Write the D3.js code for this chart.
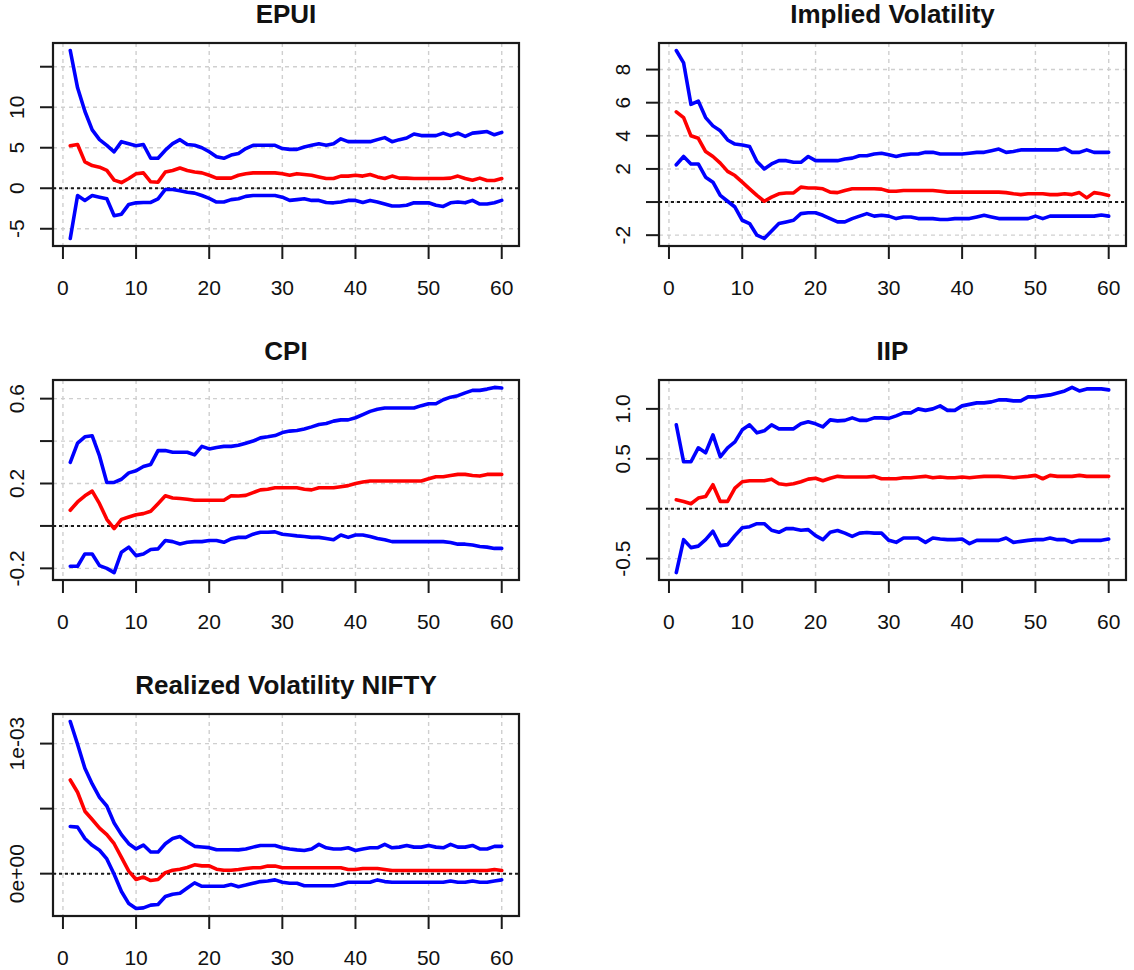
<!DOCTYPE html>
<html>
<head>
<meta charset="utf-8">
<script src="https://cdn.jsdelivr.net/npm/d3@7"></script>
<style>
  body { margin: 0; background: #fff; }
  text { font-family: "Liberation Sans", Arial, sans-serif; fill: #111; }
</style>
</head>
<body>
<svg id="chart" width="1134" height="970"></svg>
<script>
/* global d3 */
// horizons 1..60 (index axis, like R's plot of a vector)
const horizon = d3.range(1, 61);

const epuiUpper = [17.0, 12.4, 9.5, 7.2, 6.0, 5.3, 4.5, 5.75, 5.5, 5.25, 5.4, 3.7, 3.7, 4.7, 5.5, 6.0, 5.4, 5.3, 5.0, 4.5,
  3.9, 3.7, 4.1, 4.3, 4.9, 5.3, 5.3, 5.3, 5.3, 4.9, 4.8, 4.8, 5.1, 5.3, 5.5, 5.3, 5.5, 6.1, 5.75, 5.75,
  5.75, 5.75, 6.0, 6.25, 5.75, 6.0, 6.2, 6.7, 6.5, 6.5, 6.5, 6.8, 6.5, 6.8, 6.4, 6.8, 6.9, 7.0, 6.6, 6.9];
const epuiMid = [5.25, 5.4, 3.25, 2.8, 2.6, 2.2, 1.0, 0.7, 1.2, 1.8, 1.9, 0.8, 0.75, 2.0, 2.2, 2.5, 2.2, 2.0, 1.9, 1.6,
  1.25, 1.25, 1.25, 1.6, 1.8, 1.9, 1.9, 1.9, 1.9, 1.8, 1.6, 1.8, 1.7, 1.6, 1.4, 1.2, 1.2, 1.5, 1.5, 1.6,
  1.5, 1.7, 1.4, 1.2, 1.5, 1.25, 1.25, 1.2, 1.2, 1.2, 1.2, 1.2, 1.25, 1.5, 1.2, 1.0, 1.25, 0.95, 0.95, 1.2];
const epuiLower = [-6.2, -0.9, -1.5, -0.9, -1.1, -1.3, -3.4, -3.2, -2.0, -1.8, -1.75, -1.75, -1.3, -0.15, -0.15, -0.3, -0.5, -0.6, -0.9, -1.25,
  -1.7, -1.7, -1.4, -1.3, -1.0, -0.9, -0.9, -0.9, -0.9, -1.1, -1.5, -1.4, -1.3, -1.5, -1.5, -1.75, -1.8, -1.7, -1.5, -1.5,
  -1.75, -1.5, -1.7, -1.95, -2.2, -2.2, -2.1, -1.8, -1.8, -1.8, -2.1, -2.25, -1.8, -1.7, -1.8, -1.5, -1.95, -1.95, -1.8, -1.5];

const ivUpper = [9.15, 8.4, 5.9, 6.1, 5.1, 4.6, 4.3, 3.75, 3.5, 3.45, 3.35, 2.45, 2.0, 2.3, 2.5, 2.5, 2.4, 2.4, 2.75, 2.5,
  2.5, 2.5, 2.5, 2.6, 2.65, 2.8, 2.8, 2.9, 2.95, 2.85, 2.75, 2.85, 2.9, 2.9, 3.0, 3.0, 2.9, 2.9, 2.9, 2.9,
  2.95, 3.0, 3.0, 3.1, 3.2, 3.0, 3.05, 3.15, 3.15, 3.15, 3.15, 3.15, 3.15, 3.25, 3.0, 3.0, 3.15, 3.0, 3.0, 3.0];
const ivMid = [5.45, 5.1, 4.0, 3.85, 3.05, 2.75, 2.35, 1.85, 1.6, 1.2, 0.8, 0.4, 0.05, 0.3, 0.5, 0.55, 0.55, 0.9, 0.85, 0.85,
  0.8, 0.6, 0.57, 0.7, 0.8, 0.8, 0.8, 0.8, 0.78, 0.65, 0.65, 0.7, 0.7, 0.7, 0.7, 0.7, 0.65, 0.6, 0.6, 0.6,
  0.6, 0.6, 0.6, 0.6, 0.6, 0.57, 0.5, 0.45, 0.5, 0.5, 0.5, 0.45, 0.45, 0.5, 0.45, 0.57, 0.25, 0.57, 0.5, 0.4];
const ivLower = [2.25, 2.75, 2.3, 2.3, 1.5, 1.2, 0.4, 0.05, -0.3, -1.1, -1.3, -2.0, -2.2, -1.75, -1.3, -1.2, -1.1, -0.7, -0.65, -0.65,
  -0.8, -1.0, -1.2, -1.2, -1.0, -0.85, -0.7, -0.85, -0.8, -0.85, -1.0, -0.9, -0.9, -1.0, -1.0, -1.0, -1.05, -1.05, -1.0, -1.0,
  -1.0, -0.9, -0.8, -0.9, -1.0, -1.0, -1.0, -1.0, -1.0, -0.85, -1.0, -0.85, -0.85, -0.85, -0.85, -0.85, -0.85, -0.85, -0.78, -0.85];

const cpiUpper = [0.30, 0.39, 0.42, 0.425, 0.33, 0.205, 0.205, 0.22, 0.25, 0.26, 0.28, 0.29, 0.355, 0.355, 0.347, 0.347, 0.347, 0.335, 0.375, 0.363,
  0.37, 0.375, 0.375, 0.38, 0.39, 0.40, 0.415, 0.42, 0.426, 0.44, 0.447, 0.45, 0.457, 0.467, 0.478, 0.483, 0.494, 0.50, 0.50, 0.51,
  0.525, 0.54, 0.55, 0.556, 0.556, 0.556, 0.556, 0.556, 0.567, 0.576, 0.576, 0.595, 0.607, 0.614, 0.627, 0.639, 0.639, 0.645, 0.653, 0.65];
const cpiMid = [0.074, 0.113, 0.142, 0.164, 0.105, 0.031, -0.013, 0.031, 0.042, 0.053, 0.058, 0.069, 0.105, 0.142, 0.132, 0.129, 0.126, 0.121, 0.121, 0.121,
  0.121, 0.121, 0.142, 0.141, 0.144, 0.157, 0.17, 0.173, 0.18, 0.18, 0.18, 0.18, 0.173, 0.17, 0.18, 0.18, 0.18, 0.185, 0.19, 0.20,
  0.207, 0.212, 0.212, 0.212, 0.212, 0.212, 0.212, 0.212, 0.212, 0.222, 0.232, 0.232, 0.238, 0.243, 0.243, 0.238, 0.235, 0.243, 0.243, 0.243];
const cpiLower = [-0.19, -0.19, -0.132, -0.132, -0.187, -0.2, -0.22, -0.124, -0.10, -0.14, -0.132, -0.111, -0.108, -0.069, -0.074, -0.085, -0.077, -0.074, -0.074, -0.069,
  -0.069, -0.077, -0.061, -0.054, -0.054, -0.039, -0.03, -0.03, -0.028, -0.039, -0.043, -0.047, -0.05, -0.054, -0.054, -0.059, -0.065, -0.043, -0.054, -0.043,
  -0.043, -0.05, -0.059, -0.065, -0.074, -0.074, -0.074, -0.074, -0.074, -0.074, -0.074, -0.074, -0.078, -0.086, -0.086, -0.09, -0.097, -0.10, -0.106, -0.106];

const iipUpper = [0.84, 0.47, 0.47, 0.61, 0.56, 0.74, 0.52, 0.61, 0.67, 0.79, 0.84, 0.76, 0.78, 0.84, 0.80, 0.80, 0.80, 0.85, 0.87, 0.85,
  0.82, 0.89, 0.88, 0.885, 0.91, 0.885, 0.885, 0.91, 0.91, 0.905, 0.93, 0.96, 0.96, 1.0, 0.985, 1.0, 1.03, 0.985, 0.985, 1.03,
  1.045, 1.06, 1.06, 1.07, 1.09, 1.09, 1.08, 1.08, 1.12, 1.12, 1.13, 1.14, 1.16, 1.18, 1.215, 1.18, 1.2, 1.2, 1.2, 1.19];
const iipMid = [0.09, 0.073, 0.05, 0.106, 0.123, 0.24, 0.073, 0.073, 0.206, 0.27, 0.28, 0.28, 0.28, 0.296, 0.25, 0.24, 0.25, 0.27, 0.296, 0.305,
  0.28, 0.305, 0.324, 0.317, 0.317, 0.317, 0.317, 0.324, 0.30, 0.30, 0.30, 0.31, 0.31, 0.317, 0.324, 0.31, 0.317, 0.31, 0.31, 0.317,
  0.31, 0.317, 0.324, 0.324, 0.324, 0.317, 0.31, 0.317, 0.324, 0.334, 0.30, 0.334, 0.324, 0.324, 0.324, 0.334, 0.324, 0.324, 0.324, 0.324];
const iipLower = [-0.64, -0.31, -0.39, -0.375, -0.31, -0.226, -0.37, -0.36, -0.27, -0.19, -0.18, -0.15, -0.15, -0.216, -0.236, -0.2, -0.2, -0.216, -0.21, -0.27,
  -0.31, -0.236, -0.218, -0.245, -0.277, -0.245, -0.238, -0.245, -0.245, -0.317, -0.337, -0.294, -0.294, -0.294, -0.337, -0.294, -0.304, -0.31, -0.31, -0.304,
  -0.35, -0.317, -0.317, -0.317, -0.317, -0.294, -0.337, -0.327, -0.317, -0.31, -0.31, -0.294, -0.31, -0.31, -0.337, -0.317, -0.317, -0.317, -0.317, -0.304];

// realized volatility, in units of 1e-4
const rvUpper = [11.7, 9.95, 8.1, 6.9, 5.87, 5.2, 3.9, 3.0, 2.3, 1.9, 2.2, 1.66, 1.66, 2.3, 2.7, 2.85, 2.45, 2.1, 2.05, 2.0,
  1.84, 1.84, 1.84, 1.83, 1.9, 2.04, 2.17, 2.17, 2.17, 1.99, 1.9, 1.83, 1.78, 1.9, 2.25, 1.99, 1.9, 1.9, 1.99, 1.78,
  1.9, 1.99, 1.99, 2.25, 1.99, 2.04, 2.17, 2.04, 2.04, 2.17, 2.04, 1.99, 2.25, 2.04, 2.04, 2.17, 1.9, 1.9, 2.1, 2.1];
const rvMid = [7.2, 6.26, 4.8, 4.16, 3.5, 3.0, 2.3, 1.26, 0.2, -0.45, -0.26, -0.53, -0.45, 0.08, 0.26, 0.34, 0.47, 0.68, 0.6, 0.6,
  0.34, 0.26, 0.26, 0.32, 0.4, 0.45, 0.45, 0.58, 0.58, 0.45, 0.45, 0.45, 0.45, 0.45, 0.45, 0.45, 0.45, 0.45, 0.32, 0.32,
  0.4, 0.4, 0.4, 0.32, 0.24, 0.24, 0.24, 0.24, 0.24, 0.24, 0.24, 0.24, 0.24, 0.24, 0.24, 0.24, 0.24, 0.24, 0.32, 0.24];
const rvLower = [3.63, 3.58, 2.7, 2.18, 1.8, 1.13, -0.05, -1.37, -2.3, -2.68, -2.63, -2.42, -2.37, -1.76, -1.58, -1.5, -1.1, -0.71, -0.97, -0.97,
  -0.97, -0.97, -0.84, -1.0, -0.88, -0.74, -0.61, -0.56, -0.48, -0.66, -0.74, -0.74, -0.93, -0.93, -0.93, -0.93, -0.93, -0.82, -0.66, -0.66,
  -0.66, -0.66, -0.48, -0.61, -0.66, -0.66, -0.66, -0.66, -0.66, -0.66, -0.66, -0.66, -0.56, -0.66, -0.66, -0.56, -0.66, -0.66, -0.56, -0.48];

const titles = ["EPUI", "Implied Volatility", "CPI", "IIP", "Realized Volatility NIFTY"];
const xTicks = [0, 10, 20, 30, 40, 50, 60];
const epuiTicks = [-5, 0, 5, 10, 15];
const epuiLabels = ["-5", "0", "5", "10", ""];
const ivTicks = [-2, 0, 2, 4, 6, 8];
const ivLabels = ["-2", "", "2", "4", "6", "8"];
const cpiTicks = [-0.2, 0, 0.2, 0.4, 0.6];
const cpiLabels = ["-0.2", "", "0.2", "", "0.6"];
const iipTicks = [-0.5, 0, 0.5, 1.0];
const iipLabels = ["-0.5", "", "0.5", "1.0"];
const rvTicks = [0, 0.0005, 0.001];
const rvLabels = ["0e+00", "", "1e-03"];

const svg = d3.select("#chart");

const panels = [
  { title: titles[0], up: epuiUpper, mid: epuiMid, low: epuiLower, ticks: epuiTicks, labels: epuiLabels, x: 53, y: 43, w: 466, h: 203 },
  { title: titles[1], up: ivUpper, mid: ivMid, low: ivLower, ticks: ivTicks, labels: ivLabels, x: 659, y: 43, w: 467, h: 203 },
  { title: titles[2], up: cpiUpper, mid: cpiMid, low: cpiLower, ticks: cpiTicks, labels: cpiLabels, x: 53, y: 380, w: 466, h: 200 },
  { title: titles[3], up: iipUpper, mid: iipMid, low: iipLower, ticks: iipTicks, labels: iipLabels, x: 659, y: 380, w: 467, h: 200 },
  { title: titles[4], up: rvUpper.map(v => v * 1e-4), mid: rvMid.map(v => v * 1e-4), low: rvLower.map(v => v * 1e-4),
    ticks: rvTicks, labels: rvLabels, x: 53, y: 714, w: 466, h: 202 }
];

function drawPanel(p) {
  // R style axis ranges: data range padded by 4% each side
  const xPad = (60 - 1) * 0.04;
  const x = d3.scaleLinear().domain([1 - xPad, 60 + xPad]).range([p.x, p.x + p.w]);
  const all = p.up.concat(p.mid, p.low);
  const [lo, hi] = d3.extent(all);
  const yPad = (hi - lo) * 0.04;
  const y = d3.scaleLinear().domain([lo - yPad, hi + yPad]).range([p.y + p.h, p.y]);

  const g = svg.append("g");

  // grid
  g.selectAll(".vgrid").data(xTicks).enter().append("line")
    .attr("x1", d => x(d)).attr("x2", d => x(d))
    .attr("y1", p.y).attr("y2", p.y + p.h)
    .attr("stroke", "#cfcfcf").attr("stroke-width", 1.4).attr("stroke-dasharray", "4,4");
  g.selectAll(".hgrid").data(p.ticks).enter().append("line")
    .attr("x1", p.x).attr("x2", p.x + p.w)
    .attr("y1", d => y(d)).attr("y2", d => y(d))
    .attr("stroke", "#cfcfcf").attr("stroke-width", 1.4).attr("stroke-dasharray", "4,4");

  // zero line
  g.append("line")
    .attr("x1", p.x).attr("x2", p.x + p.w)
    .attr("y1", y(0)).attr("y2", y(0))
    .attr("stroke", "#1a1a1a").attr("stroke-width", 2).attr("stroke-dasharray", "3,3");

  // series
  const line = d3.line().x((d, i) => x(horizon[i])).y(d => y(d));
  [[p.up, "#0000ff"], [p.low, "#0000ff"], [p.mid, "#ff0000"]].forEach(([s, c]) => {
    g.append("path").datum(s)
      .attr("d", line)
      .attr("fill", "none")
      .attr("stroke", c)
      .attr("stroke-width", 3.6)
      .attr("stroke-linejoin", "round")
      .attr("stroke-linecap", "round");
  });

  // box
  g.append("rect")
    .attr("x", p.x).attr("y", p.y).attr("width", p.w).attr("height", p.h)
    .attr("fill", "none").attr("stroke", "#1a1a1a").attr("stroke-width", 2.2);

  // x axis
  const xAxis = g.append("g");
  xAxis.selectAll("line").data(xTicks).enter().append("line")
    .attr("x1", d => x(d)).attr("x2", d => x(d))
    .attr("y1", p.y + p.h).attr("y2", p.y + p.h + 13)
    .attr("stroke", "#1a1a1a").attr("stroke-width", 2);
  xAxis.selectAll("text").data(xTicks).enter().append("text")
    .attr("x", d => x(d)).attr("y", p.y + p.h + 49)
    .attr("text-anchor", "middle")
    .attr("font-size", 21)
    .text(d => d);

  // y axis
  const yAxis = g.append("g");
  yAxis.selectAll("line").data(p.ticks).enter().append("line")
    .attr("x1", p.x - 13).attr("x2", p.x)
    .attr("y1", d => y(d)).attr("y2", d => y(d))
    .attr("stroke", "#1a1a1a").attr("stroke-width", 2);
  yAxis.selectAll("text").data(p.ticks).enter().append("text")
    .attr("transform", d => `translate(${p.x - 29},${y(d)}) rotate(-90)`)
    .attr("text-anchor", "middle")
    .attr("font-size", 21)
    .text((d, i) => p.labels[i]);

  // title
  g.append("text")
    .attr("x", p.x + p.w / 2).attr("y", p.y - 20)
    .attr("text-anchor", "middle")
    .attr("font-size", 26)
    .attr("font-weight", "bold")
    .text(p.title);
}

panels.forEach(drawPanel);
</script>
</body>
</html>
